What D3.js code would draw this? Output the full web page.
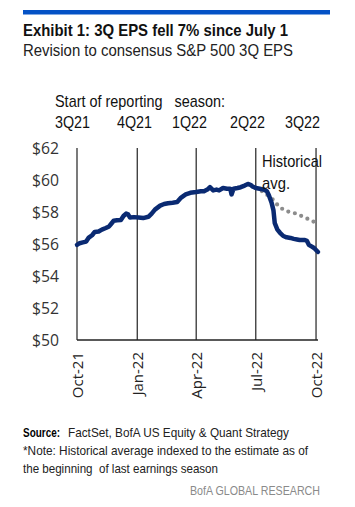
<!DOCTYPE html>
<html><head><meta charset="utf-8">
<script src="https://cdn.jsdelivr.net/npm/d3@7"></script>
<style>
html,body{margin:0;padding:0;background:#fff;}
svg{display:block;}
</style></head>
<body><svg id="chart" width="355" height="507"></svg>
<script>
// ---- data ----
const epsDates = ["2021-10-01","2021-10-05","2021-10-10","2021-10-15","2021-10-19","2021-10-24","2021-10-28","2021-11-03","2021-11-08","2021-11-14","2021-11-19","2021-11-22","2021-11-26","2021-12-01","2021-12-07","2021-12-11","2021-12-15","2021-12-18","2021-12-21","2021-12-27","2022-01-03","2022-01-10","2022-01-18","2022-01-23","2022-01-28","2022-02-05","2022-02-11","2022-02-17","2022-02-24","2022-03-03","2022-03-09","2022-03-16","2022-03-23","2022-04-01","2022-04-08","2022-04-13","2022-04-18","2022-04-22","2022-04-27","2022-05-02","2022-05-06","2022-05-12","2022-05-18","2022-05-23","2022-05-25","2022-05-28","2022-06-03","2022-06-08","2022-06-14","2022-06-19","2022-06-23","2022-06-26","2022-07-01","2022-07-07","2022-07-13","2022-07-18","2022-07-21","2022-07-25","2022-07-28","2022-07-30","2022-08-03","2022-08-07","2022-08-12","2022-08-17","2022-08-23","2022-08-28","2022-09-02","2022-09-06","2022-09-14","2022-09-17","2022-09-20","2022-09-24","2022-09-28","2022-10-04"];
const epsValues = [55.95,56.05,56.1,56.15,56.4,56.55,56.75,56.78,56.9,57.0,57.1,57.25,57.45,57.48,57.5,57.75,57.9,57.85,57.65,57.68,57.65,57.62,57.7,57.9,58.15,58.4,58.5,58.55,58.58,58.62,58.9,59.1,59.2,59.25,59.3,59.3,59.4,59.55,59.35,59.4,59.35,59.5,59.45,59.45,59.1,59.45,59.5,59.55,59.65,59.75,59.7,59.6,59.5,59.45,59.4,59.3,59.05,58.6,58.1,57.3,56.9,56.7,56.5,56.42,56.38,56.32,56.28,56.25,56.25,56.2,55.95,55.85,55.75,55.5];
const histDates = ["2022-07-01","2022-07-13","2022-07-28","2022-08-06","2022-08-17","2022-08-28","2022-09-06","2022-09-17","2022-09-25","2022-10-03"];
const histValues = [59.5,59.25,58.75,58.3,58.05,57.95,57.8,57.6,57.45,57.25];
const yTicks = [50,52,54,56,58,60,62];
const xTickDates = ["2021-10-01","2022-01-01","2022-04-01","2022-07-01","2022-10-01"];
const quarterLabels = ["3Q21","4Q21","1Q22","2Q22","3Q22"];

// ---- layout ----
const sans = "'Liberation Sans',Arial,sans-serif";
const segoe = "'Open Sans','Noto Sans',sans-serif";
const quarterLabelLeft = [55,117,172,230,285];

const parse = d3.timeParse("%Y-%m-%d");
const svg = d3.select("#chart");

const x = d3.scaleTime().domain([parse("2021-10-01"), parse("2022-10-04")]).range([77, 318]);
const y = d3.scaleLinear().domain([50, 62]).range([340, 148]);

function squeeze(sel, w){ sel.attr("textLength", w).attr("lengthAdjust","spacingAndGlyphs"); return sel; }

// header bar
svg.append("rect").attr("x",23).attr("y",10).attr("width",307).attr("height",4.5).attr("fill","#0452c6");
squeeze(svg.append("text").attr("x",23).attr("y",35.5).attr("font-family",sans).attr("font-weight","bold")
  .attr("font-size",17).attr("fill","#111").text("Exhibit 1: 3Q EPS fell 7% since July 1"), 265);
squeeze(svg.append("text").attr("x",23).attr("y",55.5).attr("font-family",sans)
  .attr("font-size",16).attr("fill","#222").text("Revision to consensus S&P 500 3Q EPS"), 270);

// start of reporting season
squeeze(svg.append("text").attr("x",55).attr("y",107).attr("font-family",sans).attr("font-size",17)
  .attr("fill","#111").style("white-space","pre").text("Start of reporting   season:"), 170);
svg.selectAll("text.q").data(quarterLabels).join("text").attr("class","q")
  .attr("x",(d,i)=>quarterLabelLeft[i]).attr("y",128).attr("font-family",sans).attr("font-size",17)
  .attr("fill","#111").attr("textLength",35).attr("lengthAdjust","spacingAndGlyphs").text(d=>d);

// gridlines
const xt = xTickDates.map(parse);
svg.selectAll("line.grid").data(xt).join("line").attr("class","grid")
  .attr("x1",d=>x(d)).attr("x2",d=>x(d)).attr("y1",y(62)).attr("y2",y(50))
  .attr("stroke","#222").attr("stroke-width",1.2);
svg.append("line").attr("x1",x.range()[0]).attr("x2",x.range()[1]).attr("y1",y(50)).attr("y2",y(50))
  .attr("stroke","#222").attr("stroke-width",1.5);

// y axis
const yAxis = svg.append("g").attr("transform","translate(77,0)")
  .call(d3.axisLeft(y).tickValues(yTicks).tickSize(0).tickPadding(18).tickFormat(d=>"$"+d));
yAxis.select(".domain").remove();
yAxis.selectAll("text").attr("font-family",segoe).attr("font-size",17).attr("fill","#333")
  .attr("textLength",27).attr("lengthAdjust","spacingAndGlyphs");

// x axis
const xAxis = svg.append("g").attr("transform","translate(0,340)")
  .call(d3.axisBottom(x).tickValues(xt).tickSize(0).tickFormat(d3.timeFormat("%b-%y")));
xAxis.select(".domain").remove();
xAxis.selectAll("text").attr("font-family",segoe).attr("font-size",15).attr("fill","#222")
  .attr("transform","rotate(-90)").attr("text-anchor","end").attr("x",-12).attr("y",0).attr("dy","0.36em");

// lines
const blue = epsDates.map((d,i)=>({date:parse(d), v:epsValues[i]}));
const hist = histDates.map((d,i)=>({date:parse(d), v:histValues[i]}));
const line = d3.line().x(d=>x(d.date)).y(d=>y(d.v)).curve(d3.curveLinear);

svg.append("path").datum(hist).attr("d",line).attr("fill","none").attr("stroke","#8c8c8c")
  .attr("stroke-width",4.2).attr("stroke-linecap","round").attr("stroke-dasharray","0,6.8");
svg.append("path").datum(blue).attr("d",line).attr("fill","none").attr("stroke","#0a2a72")
  .attr("stroke-width",4.5).attr("stroke-linejoin","round").attr("stroke-linecap","round");

// annotation
squeeze(svg.append("text").attr("x",262).attr("y",167).attr("font-family",sans).attr("font-size",17).attr("fill","#111").text("Historical"), 60);
squeeze(svg.append("text").attr("x",262).attr("y",189).attr("font-family",sans).attr("font-size",17).attr("fill","#111").text("avg."), 28);

// footer
squeeze(svg.append("text").attr("x",23).attr("y",437).attr("font-family",sans).attr("font-size",13)
  .attr("font-weight","bold").attr("fill","#000").text("Source:"), 37);
squeeze(svg.append("text").attr("x",68).attr("y",437).attr("font-family",sans).attr("font-size",13).attr("fill","#222")
  .text("FactSet, BofA US Equity & Quant Strategy"), 221);
squeeze(svg.append("text").attr("x",23).attr("y",455).attr("font-family",sans).attr("font-size",13).attr("fill","#222")
  .text("*Note: Historical average indexed to the estimate as of"), 285);
squeeze(svg.append("text").attr("x",23).attr("y",473).attr("font-family",sans).attr("font-size",13).attr("fill","#222")
  .style("white-space","pre").text("the beginning  of last earnings season"), 195);
squeeze(svg.append("text").attr("x",320).attr("y",495).attr("text-anchor","end").attr("font-family",sans).attr("font-size",13).attr("fill","#8a8a8a")
  .text("BofA GLOBAL RESEARCH"), 130);
</script></body></html>
